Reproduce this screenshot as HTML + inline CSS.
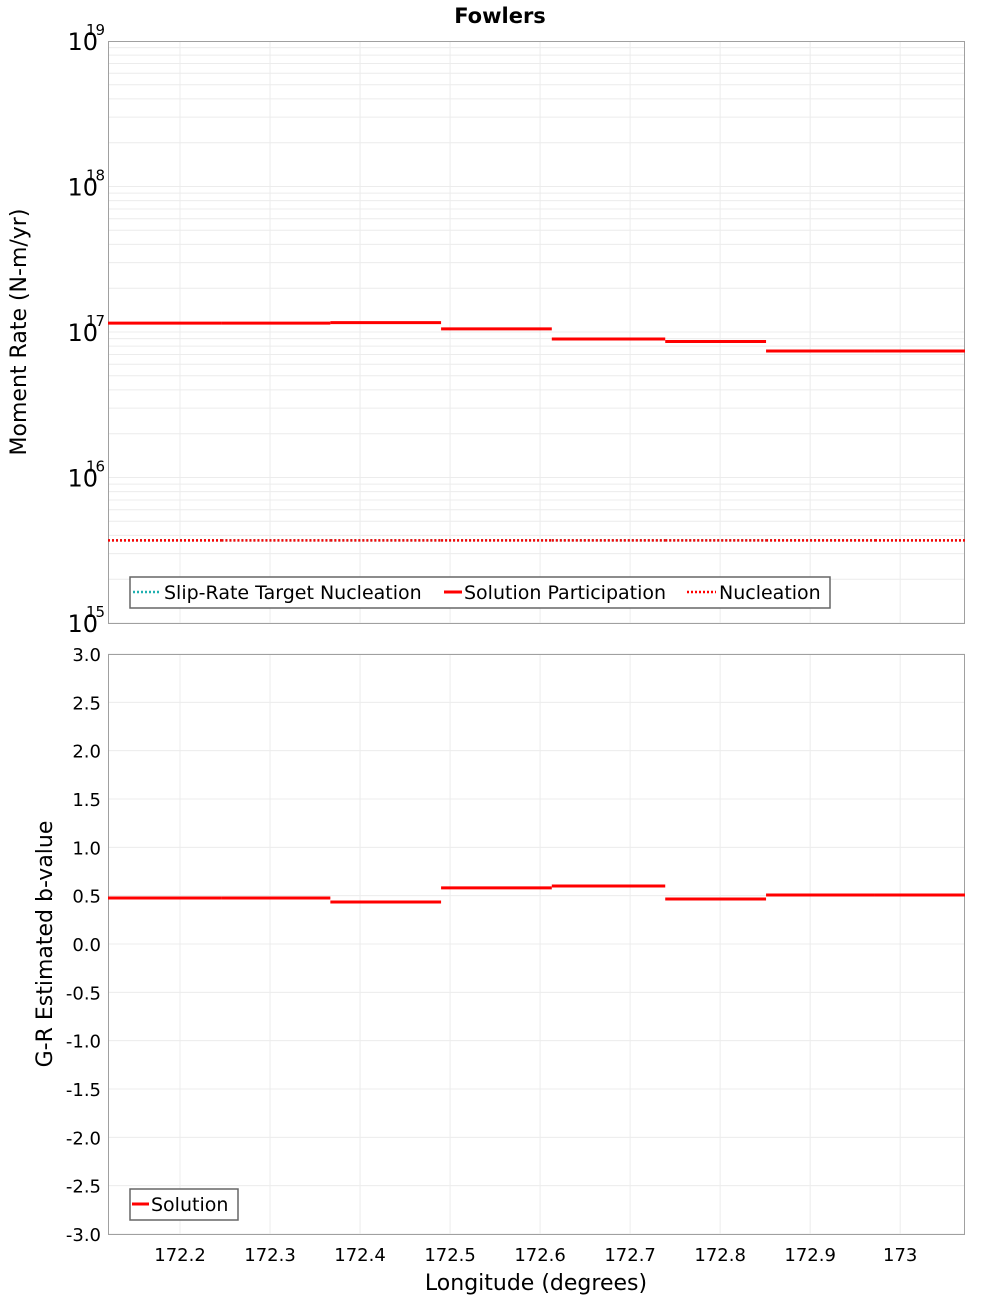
<!DOCTYPE html>
<html><head><meta charset="utf-8"><style>
body{margin:0;background:#fff;}
svg text{font-family:"DejaVu Sans","Liberation Sans",sans-serif;fill:#000;}
</style></head><body>
<svg id="c" width="1000" height="1300" xmlns="http://www.w3.org/2000/svg">
<text x="500" y="23" text-anchor="middle" font-size="21" font-weight="bold">Fowlers</text>
<g id="topPanel"></g>
<g id="botPanel"></g>
<text transform="translate(26,332) rotate(-90)" text-anchor="middle" font-size="22">Moment Rate (N-m/yr)</text>
<text transform="translate(52,944) rotate(-90)" text-anchor="middle" font-size="22">G-R Estimated b-value</text>
<text x="536" y="1290" text-anchor="middle" font-size="22">Longitude (degrees)</text>
</svg>
<script>
const xTicks=[172.2,172.3,172.4,172.5,172.6,172.7,172.8,172.9,173.0];
const xTickLabels=["172.2","172.3","172.4","172.5","172.6","172.7","172.8","172.9","173"];
const binEdges=[172.12,172.246,172.367,172.49,172.613,172.739,172.851,172.972,173.072];
const participation=[1.15e17,1.15e17,1.16e17,1.05e17,8.95e16,8.6e16,7.4e16,7.4e16];
const nucleation=[3.7e15,3.7e15,3.7e15,3.7e15,3.7e15,3.7e15,3.7e15,3.7e15];
const targetNucleation=[3.7e15,3.7e15,3.7e15,3.7e15,3.7e15,3.7e15,3.7e15,3.7e15];
const bValues=[0.476,0.476,0.435,0.58,0.60,0.466,0.507,0.507];
const logTicks=[15,16,17,18,19];
const bTicks=[-3,-2.5,-2,-1.5,-1,-0.5,0,0.5,1,1.5,2,2.5,3];

const NS="http://www.w3.org/2000/svg";
const L=108,R=965,T1=41,B1=623,T2=654,B2=1234;
const xMin=172.12,xMax=173.072;
const X=v=>L+(v-xMin)/(xMax-xMin)*(R-L);
const Y1=v=>B1-(Math.log10(v)-15)/4*(B1-T1);
const Y2=v=>B2-(v+3)/6*(B2-T2);
function mk(p,tag,a,txt){const e=document.createElementNS(NS,tag);for(const k in a)e.setAttribute(k,a[k]);if(txt!==undefined)e.textContent=txt;p.appendChild(e);return e;}
const topG=document.getElementById('topPanel'),botG=document.getElementById('botPanel');
const svg=document.getElementById('c');

for(let d=15;d<19;d++)for(let m=1;m<10;m++){const y=Y1(m*Math.pow(10,d));
 const g=mk(topG,'line',{x1:L,x2:R,y1:y,y2:y,stroke:'#ececec','stroke-width':1});
 
 }
for(const t of xTicks){for(const [p,a,b] of [[topG,T1,B1],[botG,T2,B2]]){
 const g=mk(p,'line',{x1:X(t),x2:X(t),y1:a,y2:b,stroke:'#ececec'});
 
 }}
for(const t of bTicks){const g=mk(botG,'line',{x1:L,x2:R,y1:Y2(t),y2:Y2(t),stroke:'#ececec'});
 
 }
for(const [p,a,b] of [[topG,T1,B1],[botG,T2,B2]]){const f=mk(p,'rect',{x:L+0.5,y:a+0.5,width:R-L-1,height:b-a,fill:'none',stroke:'#a0a0a0'});
 
 }
for(const d of logTicks){const y=Y1(Math.pow(10,d));
 const t=mk(svg,'text',{x:98,y:y+9,'text-anchor':'end','font-size':24},'10');
 
 
 const s=mk(svg,'text',{x:86,y:y-6,'font-size':15},String(d));
 
 }
for(const v of bTicks){const t=mk(svg,'text',{x:101,y:Y2(v)+7,'text-anchor':'end','font-size':18},v.toFixed(1));
 
 }
xTicks.forEach((v,i)=>{const t=mk(svg,'text',{x:X(v),y:1261,'text-anchor':'middle','font-size':18},xTickLabels[i]);
 
 });
for(let i=0;i<participation.length;i++){
 const a=X(binEdges[i]),b=X(binEdges[i+1]);
 const t=mk(topG,'line',{x1:a,x2:b,y1:Y1(targetNucleation[i]),y2:Y1(targetNucleation[i]),stroke:'#20b0b0','stroke-width':2.5,'stroke-dasharray':'2,2'});
 
 
 const n=mk(topG,'line',{x1:a,x2:b,y1:Y1(nucleation[i]),y2:Y1(nucleation[i]),stroke:'#ff0000','stroke-width':2.5,'stroke-dasharray':'2,2'});
 
 
 const p=mk(topG,'line',{x1:a,x2:b,y1:Y1(participation[i]),y2:Y1(participation[i]),stroke:'#ff0000','stroke-width':3});
 
 
 const q=mk(botG,'line',{x1:a,x2:b,y1:Y2(bValues[i]),y2:Y2(bValues[i]),stroke:'#ff0000','stroke-width':3});
 
 
}
const lg=mk(svg,'g',{});


mk(lg,'rect',{x:130,y:577,width:700,height:31,fill:'#fff',stroke:'#666','stroke-width':1.5});
mk(lg,'line',{x1:133,x2:160,y1:592,y2:592,stroke:'#20b0b0','stroke-width':2.5,'stroke-dasharray':'2,2'});
mk(lg,'text',{x:164,y:599,'font-size':19},'Slip-Rate Target Nucleation');
mk(lg,'line',{x1:444,x2:462,y1:592,y2:592,stroke:'#ff0000','stroke-width':3});
mk(lg,'text',{x:464,y:599,'font-size':19},'Solution Participation');
mk(lg,'line',{x1:687,x2:716,y1:592,y2:592,stroke:'#ff0000','stroke-width':2.5,'stroke-dasharray':'2,2'});
mk(lg,'text',{x:719,y:599,'font-size':19},'Nucleation');
const lg2=mk(svg,'g',{});


mk(lg2,'rect',{x:130,y:1189,width:108,height:31,fill:'#fff',stroke:'#666','stroke-width':1.5});
mk(lg2,'line',{x1:132,x2:149,y1:1204,y2:1204,stroke:'#ff0000','stroke-width':3});
mk(lg2,'text',{x:151,y:1211,'font-size':19},'Solution');
</script>
</body></html>
